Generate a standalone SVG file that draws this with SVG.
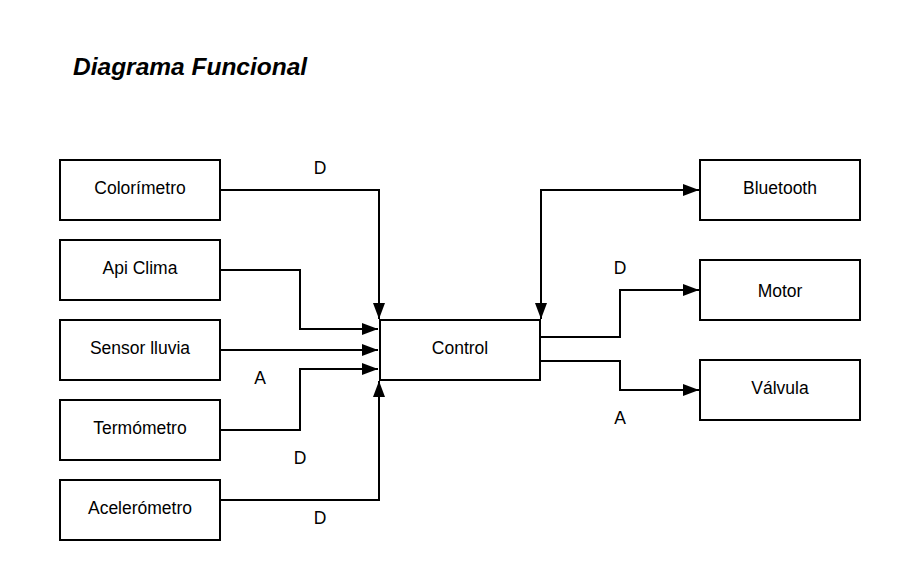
<svg xmlns="http://www.w3.org/2000/svg" width="900" height="580" viewBox="0 0 900 580">
<style>
.box{fill:#fff;stroke:#000;stroke-width:2}
.lbl{font-family:"Liberation Sans",Arial,sans-serif;font-size:17.5px;fill:#000;text-anchor:middle}
.ln{fill:none;stroke:#000;stroke-width:2}
.title{font-family:"Liberation Sans",Arial,sans-serif;font-size:24.5px;font-weight:bold;font-style:italic;fill:#000}
</style>
<defs>
<marker id="ah" markerWidth="16" markerHeight="12" refX="16" refY="6" orient="auto" markerUnits="userSpaceOnUse">
<path d="M0,0 L16,6 L0,12 Z" fill="#000"/>
</marker>
<marker id="ahs" markerWidth="16" markerHeight="12" refX="16" refY="6" orient="auto-start-reverse" markerUnits="userSpaceOnUse">
<path d="M0,0 L16,6 L0,12 Z" fill="#000"/>
</marker>
</defs>
<rect width="900" height="580" fill="#fff"/>
<text class="title" x="73" y="75">Diagrama Funcional</text>
<g id="connectors">
<path class="ln" d="M220,190 H379 V319" marker-end="url(#ah)"/>
<path class="ln" d="M220,270 H300 V329 H378" marker-end="url(#ah)"/>
<path class="ln" d="M220,350 H378" marker-end="url(#ah)"/>
<path class="ln" d="M220,430 H300 V369 H378" marker-end="url(#ah)"/>
<path class="ln" d="M220,500 H379 V381" marker-end="url(#ah)"/>
<path class="ln" d="M541,319 V190 H699" marker-start="url(#ahs)" marker-end="url(#ah)"/>
<path class="ln" d="M540,337 H620 V290 H699" marker-end="url(#ah)"/>
<path class="ln" d="M540,361 H620 V390 H699" marker-end="url(#ah)"/>
<text class="lbl" x="320" y="174">D</text>
<text class="lbl" x="260" y="384">A</text>
<text class="lbl" x="300" y="464">D</text>
<text class="lbl" x="320" y="524">D</text>
<text class="lbl" x="620" y="274">D</text>
<text class="lbl" x="620" y="424">A</text>
</g>
<g id="colorimetro"><rect class="box" x="60" y="160" width="160" height="60"/><text class="lbl" x="140" y="194">Colorímetro</text></g>
<g id="apiclima"><rect class="box" x="60" y="240" width="160" height="60"/><text class="lbl" x="140" y="274">Api Clima</text></g>
<g id="sensorlluvia"><rect class="box" x="60" y="320" width="160" height="60"/><text class="lbl" x="140" y="354">Sensor lluvia</text></g>
<g id="termometro"><rect class="box" x="60" y="400" width="160" height="60"/><text class="lbl" x="140" y="434">Termómetro</text></g>
<g id="acelerometro"><rect class="box" x="60" y="480" width="160" height="60"/><text class="lbl" x="140" y="514">Acelerómetro</text></g>
<g id="control"><rect class="box" x="380" y="320" width="160" height="60"/><text class="lbl" x="460" y="354">Control</text></g>
<g id="bluetooth"><rect class="box" x="700" y="160" width="160" height="60"/><text class="lbl" x="780" y="194">Bluetooth</text></g>
<g id="motor"><rect class="box" x="700" y="260" width="160" height="60"/><text class="lbl" x="780" y="297">Motor</text></g>
<g id="valvula"><rect class="box" x="700" y="360" width="160" height="60"/><text class="lbl" x="780" y="394">Válvula</text></g>
</svg>
